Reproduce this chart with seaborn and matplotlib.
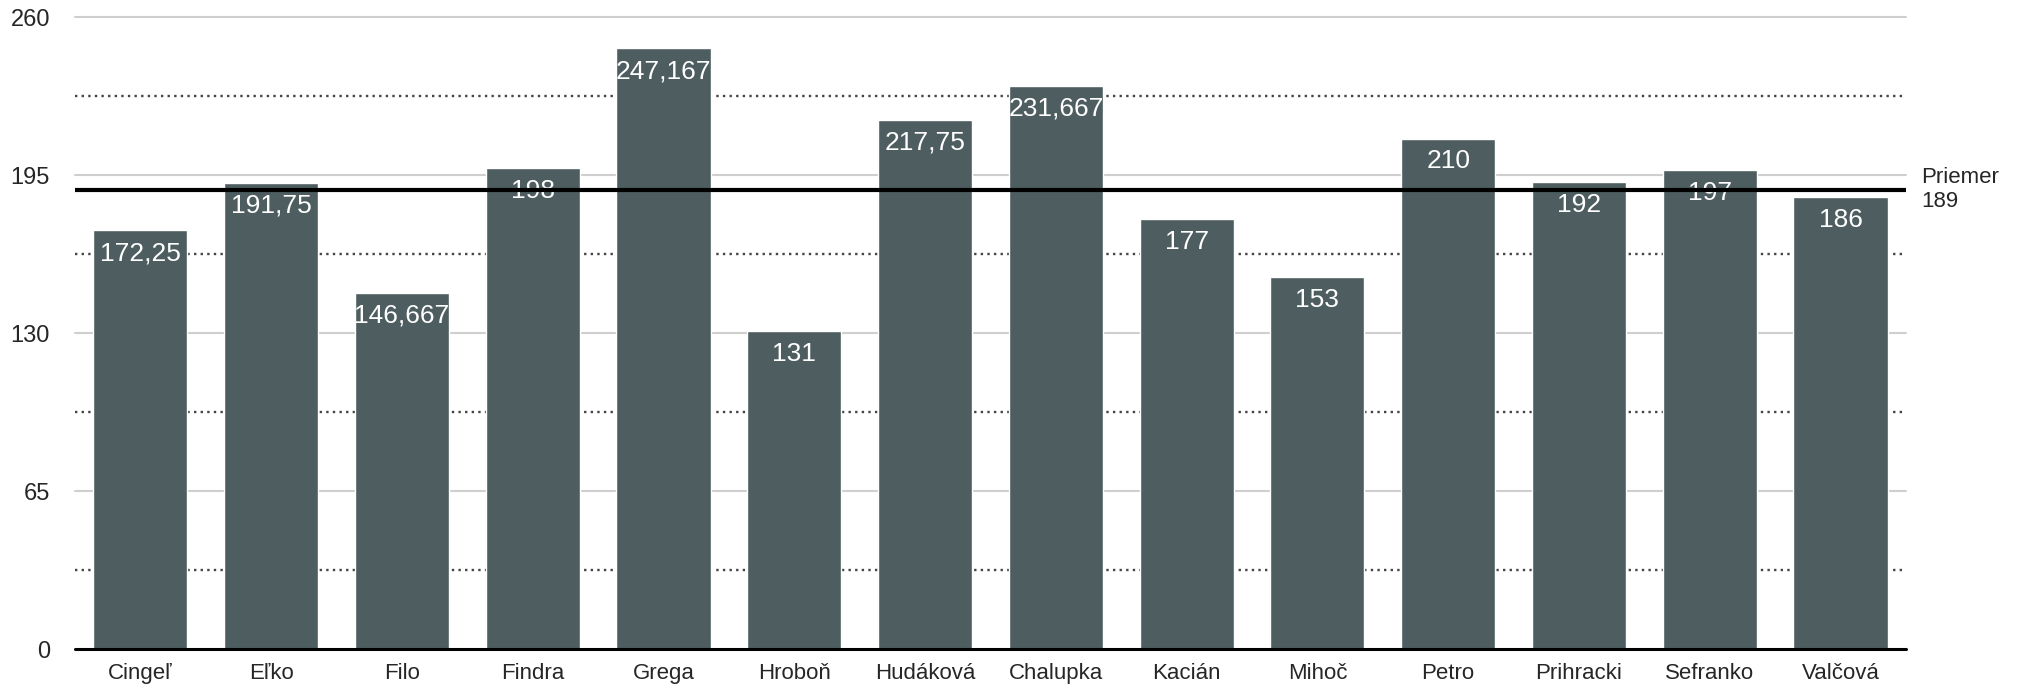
import matplotlib
matplotlib.use("Agg")
import pandas as pd
import seaborn as sns
import matplotlib.pyplot as plt

# data
names = ["Cingeľ", "Eľko", "Filo", "Findra", "Grega", "Hroboň", "Hudáková",
         "Chalupka", "Kacián", "Mihoč", "Petro", "Prihracki", "Sefranko", "Valčová"]
scores = [172.25, 191.75, 146.667, 198, 247.167, 131, 217.75,
          231.667, 177, 153, 210, 192, 197, 186]
mean_value = 189
y_ticks = [0, 65, 130, 195, 260]
y_dotted = [32.5, 97.5, 162.5, 227.5]

df = pd.DataFrame({"meno": names, "body": scores})

sns.set_style("white")
plt.rcParams["font.family"] = ["Liberation Sans", "DejaVu Sans"]

fig = plt.figure(figsize=(20.19, 6.94), dpi=100)
ax = fig.add_axes([0.0371, 0.0648, 0.9069, 0.9107])

sns.barplot(data=df, x="meno", y="body", color="#4e5e60", saturation=1,
            width=0.72, ax=ax, zorder=2)

# gridlines: solid at ticks, dotted in between
for y in y_ticks[1:]:
    ax.axhline(y, color="#cfcfcf", lw=1.5, zorder=0, clip_on=False)
for y in y_dotted:
    ax.axhline(y, color="#444444", lw=1.7, ls=(0, (1.0, 1.8)), zorder=0)
ax.axhline(0, color="black", lw=2.2, zorder=3, clip_on=False)

# value labels inside bars
for patch, v in zip(ax.patches, scores):
    label = f"{v:g}".replace(".", ",")
    ax.annotate(label, xy=(patch.get_x() + patch.get_width() / 2, patch.get_height()),
                xytext=(0, -16.5), textcoords="offset points",
                ha="center", va="center", color="white", fontsize=19, zorder=4)

# mean line
ax.axhline(mean_value, color="black", lw=3, zorder=5)
ax.annotate(f"Priemer\n{mean_value}", xy=(1, mean_value),
            xycoords=("axes fraction", "data"), xytext=(11, 0),
            textcoords="offset points", ha="left", va="center",
            fontsize=16, linespacing=1.15, annotation_clip=False)

ax.set_ylim(0, 260)
ax.set_yticks(y_ticks)
ax.set_xlabel("")
ax.set_ylabel("")
ax.tick_params(axis="y", length=0, pad=18, labelsize=17)
ax.tick_params(axis="x", length=0, pad=10, labelsize=16)
sns.despine(ax=ax, left=True, bottom=True)

plt.savefig("out.png", dpi=100)
